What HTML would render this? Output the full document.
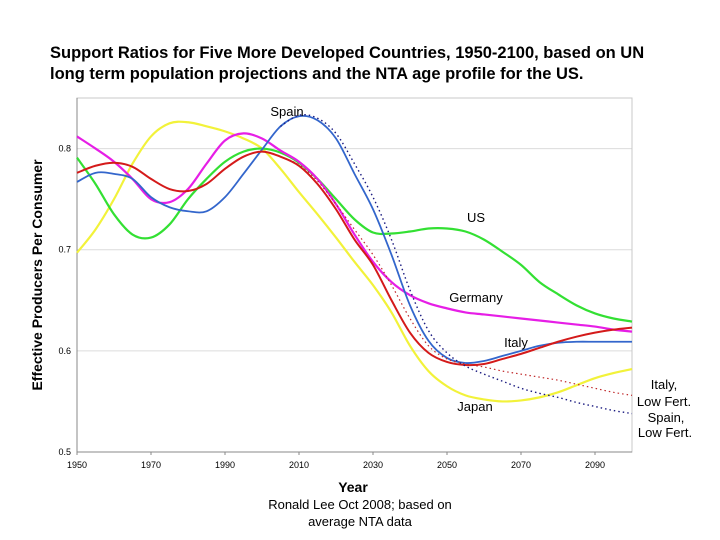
<!DOCTYPE html>
<html><head><meta charset="utf-8">
<style>
body{margin:0;background:#fff;width:720px;height:540px;overflow:hidden;font-family:"Liberation Sans",sans-serif}
svg{position:absolute;left:0;top:0}
</style></head>
<body>
<svg width="720" height="540">
<text x="50" y="58" font-size="16.5" font-weight="bold">Support Ratios for Five More Developed Countries, 1950-2100, based on UN</text>
<text x="50" y="79" font-size="16.5" font-weight="bold">long term population projections and the NTA age profile for the US.</text>
<g id="grid"></g>
<g id="axes"></g>
<g id="series"></g>
<text x="42" y="275" font-size="14" font-weight="bold" text-anchor="middle" transform="rotate(-90 42 275)">Effective Producers Per Consumer</text>
<text x="353" y="492" font-size="14" font-weight="bold" text-anchor="middle">Year</text>
<text x="360" y="509" font-size="13" text-anchor="middle">Ronald Lee Oct 2008; based on</text>
<text x="360" y="526" font-size="13" text-anchor="middle">average NTA data</text>
<text x="287" y="116" font-size="13" text-anchor="middle">Spain</text>
<text x="476" y="222" font-size="13" text-anchor="middle">US</text>
<text x="476" y="302" font-size="13" text-anchor="middle">Germany</text>
<text x="516" y="347" font-size="13" text-anchor="middle">Italy</text>
<text x="475" y="411" font-size="13" text-anchor="middle">Japan</text>
<text x="664" y="389" font-size="13" text-anchor="middle">Italy,</text>
<text x="664" y="406" font-size="13" text-anchor="middle">Low Fert.</text>
<text x="666" y="422" font-size="13" text-anchor="middle">Spain,</text>
<text x="665" y="437" font-size="13" text-anchor="middle">Low Fert.</text>
</svg>
<script>
const years=[1950,1955,1960,1965,1970,1975,1980,1985,1990,1995,2000,2005,2010,2015,2020,2025,2030,2035,2040,2045,2050,2055,2060,2065,2070,2075,2080,2085,2090,2095,2100];
const japan=[.697,.72,.75,.785,.812,.825,.826,.822,.817,.81,.8,.78,.757,.735,.712,.688,.665,.638,.605,.58,.565,.556,.552,.550,.551,.554,.559,.566,.573,.578,.582];
const us=[.791,.765,.735,.715,.712,.725,.75,.77,.787,.797,.8,.796,.786,.77,.75,.73,.717,.716,.718,.721,.721,.718,.71,.698,.685,.668,.656,.645,.637,.632,.629];
const germany=[.812,.8,.787,.77,.75,.747,.76,.785,.808,.815,.81,.798,.787,.77,.745,.715,.688,.668,.655,.647,.642,.638,.636,.634,.632,.63,.628,.626,.624,.621,.619];
const italy=[.776,.783,.786,.782,.77,.76,.758,.765,.78,.792,.797,.792,.783,.765,.74,.71,.685,.65,.618,.598,.589,.586,.587,.592,.597,.603,.609,.614,.618,.621,.623];
const spain=[.767,.776,.775,.77,.752,.742,.738,.738,.752,.775,.799,.822,.832,.828,.81,.775,.74,.695,.645,.61,.593,.588,.59,.595,.6,.605,.608,.609,.609,.609,.609];
const lowYears=[2005,2010,2015,2020,2025,2030,2035,2040,2045,2050,2055,2060,2065,2070,2075,2080,2085,2090,2095,2100];
const spainLow=[.822,.833,.83,.815,.785,.752,.71,.66,.62,.598,.585,.577,.57,.563,.558,.554,.549,.545,.541,.538];
const italyLow=[.792,.784,.768,.745,.72,.695,.665,.632,.605,.592,.587,.584,.58,.577,.574,.571,.567,.563,.559,.556];
const yTicks=[0.5,0.6,0.7,0.8];
const xTicks=[1950,1970,1990,2010,2030,2050,2070,2090];

const NS="http://www.w3.org/2000/svg";
const X0=77,X1=632,Y0=452,YT=98;
const sx=y=>X0+(y-1950)/150*(X1-X0);
const sy=v=>Y0-(v-0.5)/0.35*(Y0-YT);
function mk(tag,attrs,parent){const e=document.createElementNS(NS,tag);for(const k in attrs)e.setAttribute(k,attrs[k]);parent.appendChild(e);return e;}
const grid=document.getElementById('grid'),axes=document.getElementById('axes'),ser=document.getElementById('series');
yTicks.forEach(t=>{
  if(t>0.5){const l=mk('line',{x1:X0,x2:X1,y1:sy(t),y2:sy(t),stroke:'#dcdcdc','stroke-width':1},grid);
  
  }
  const tx=mk('text',{x:X0-6,y:sy(t)+3,'font-size':9,'text-anchor':'end'},axes);
  tx.textContent=String(t);
  
  
});
mk('rect',{x:X0,y:YT,width:X1-X0,height:Y0-YT,fill:'none',stroke:'#c8c8c8','stroke-width':1},axes);
mk('line',{x1:X0,x2:X1,y1:Y0,y2:Y0,stroke:'#888','stroke-width':1},axes);
mk('line',{x1:X0,x2:X0,y1:YT,y2:Y0,stroke:'#888','stroke-width':1},axes);
xTicks.forEach(t=>{
  mk('line',{x1:sx(t),x2:sx(t),y1:Y0,y2:Y0+3,stroke:'#888'},axes);
  const tx=mk('text',{x:sx(t),y:Y0+16,'font-size':9,'text-anchor':'middle'},axes);
  tx.textContent=String(t);
  
  
});
function pathD(xs,vs){
  const p=xs.map((x,i)=>[sx(x),sy(vs[i])]);
  let d=`M${p[0][0]},${p[0][1]}`;
  for(let i=0;i<p.length-1;i++){
    const a=p[Math.max(0,i-1)],b=p[i],c=p[i+1],e=p[Math.min(p.length-1,i+2)];
    const c1=[b[0]+(c[0]-a[0])/6,b[1]+(c[1]-a[1])/6],c2=[c[0]-(e[0]-b[0])/6,c[1]-(e[1]-b[1])/6];
    d+=` C${c1[0]},${c1[1]} ${c2[0]},${c2[1]} ${c[0]},${c[1]}`;
  }
  return d;
}
function line(xs,vs,color,name,dash,w){
  const el=mk('path',{d:pathD(xs,vs),fill:'none',stroke:color,'stroke-width':w},ser);
  if(dash)el.setAttribute('stroke-dasharray',dash);
  
  
}
line(years,japan,'#f2f23a','line-japan',null,2.2);
line(years,us,'#33e033','line-us',null,2.2);
line(years,germany,'#e61ee6','line-germany',null,2.2);
line(years,spain,'#3366cc','line-spain',null,1.8);
line(years,italy,'#d41a1a','line-italy',null,2);
line(lowYears,spainLow,'#1a1a80','line-spain-low-fert','1.5,3',1.4);
line(lowYears,italyLow,'#c0282a','line-italy-low-fert','1.5,3',1.2);
</script>
</body></html>
